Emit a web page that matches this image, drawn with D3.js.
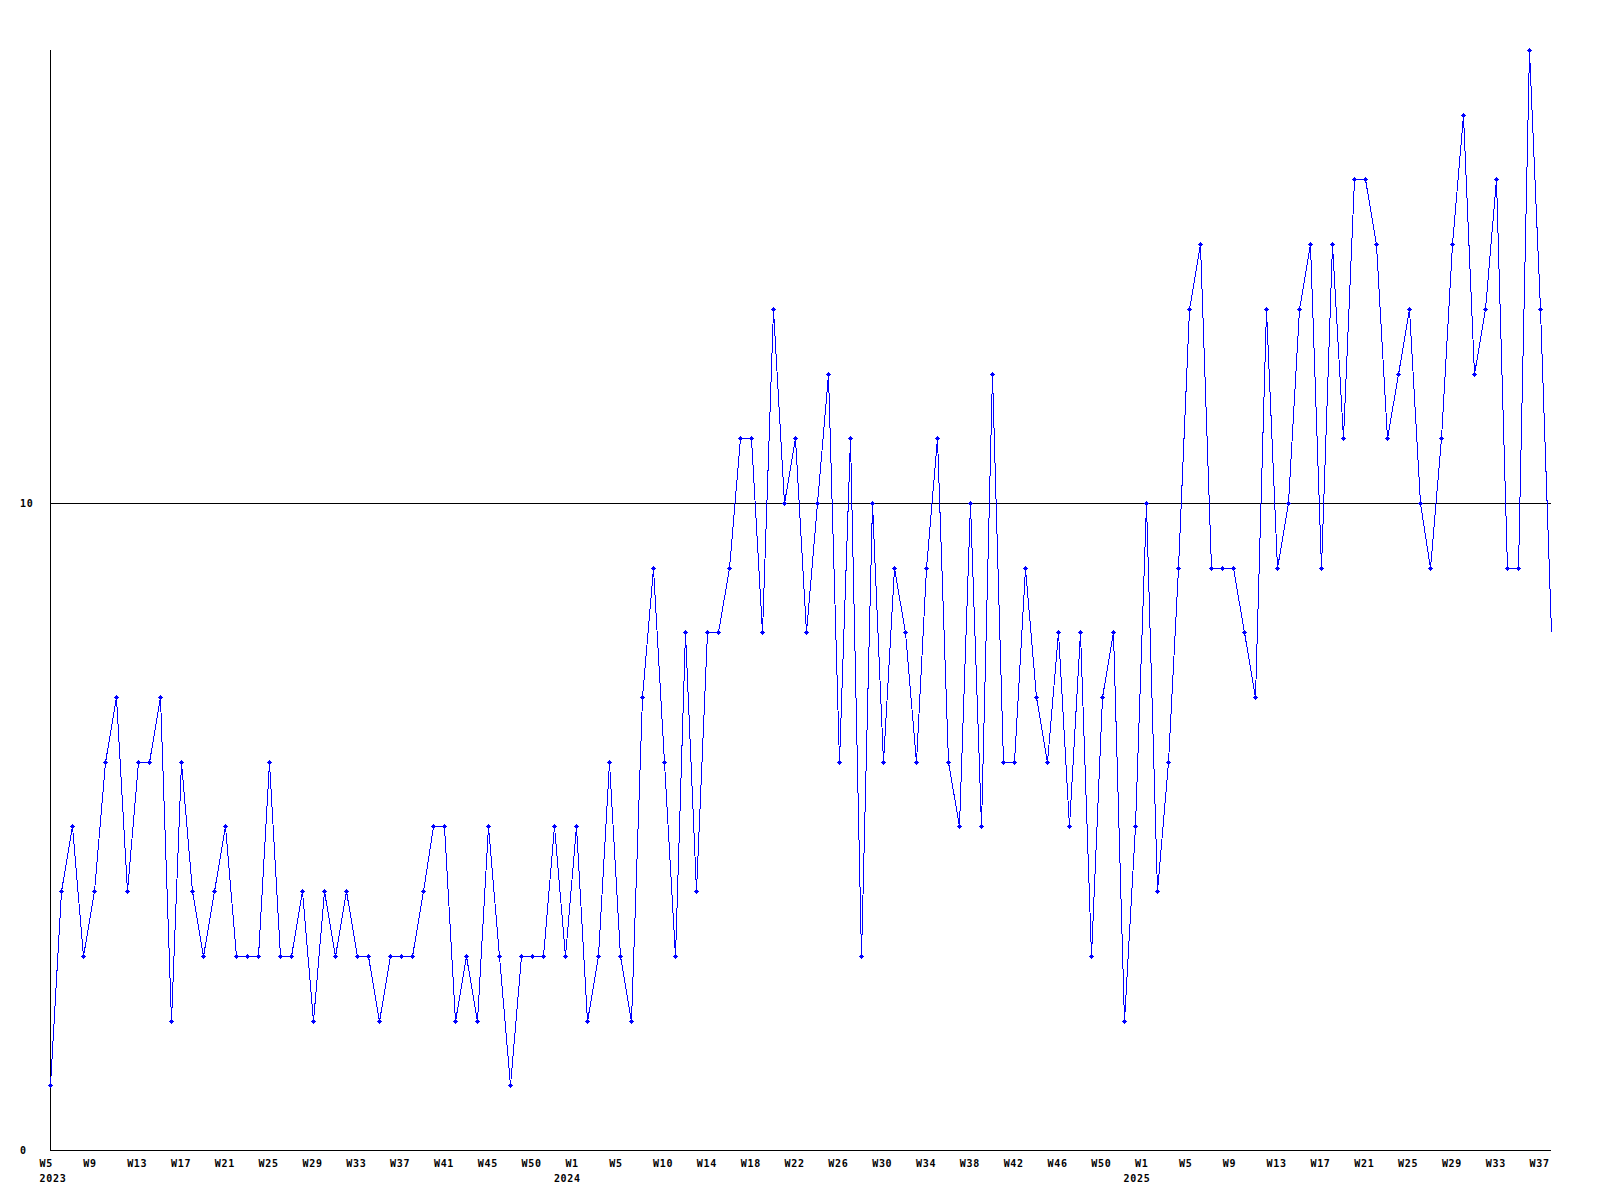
<!DOCTYPE html>
<html>
<head>
<meta charset="utf-8">
<script src="https://cdn.jsdelivr.net/npm/d3@7/dist/d3.min.js"></script>
<style>
  html, body { margin: 0; padding: 0; background: #ffffff; }
  svg { display: block; }
  text { font-family: "DejaVu Sans Mono", "Liberation Mono", monospace; font-weight: bold; font-size: 10px; letter-spacing: 0.7px; fill: #000; }
</style>
</head>
<body>
<svg id="chart" width="1600" height="1200"></svg>
<script>
// ---- data ----
const years = ["2023", "2024", "2025"];
const firstWeek = [5, 1, 1];
const values2023 = [1,4,5,3,4,6,7,4,6,6,7,2,6,4,3,4,5,3,3,3,6,3,3,4,
                    2,4,3,4,3,3,2,3,3,3,4,5,5,2,3,2,5,3,1,3,3,3,5,3];
const values2024 = [5,2,3,6,3,2,7,9,6,3,8,4,8,8,9,11,11,8,13,10,11,8,10,12,
                    6,11,3,10,6,9,8,6,9,11,6,5,10,5,12,6,6,9,7,6,8,5,8,3,
                    7,8,2,5];
const values2025 = [10,4,6,9,13,14,9,9,9,8,7,13,9,10,13,14,9,14,11,15,
                    15,14,11,12,13,10,9,11,14,16,12,13,15,9,9,17,13,8];
const ticks2023 = ["W5","W9","W13","W17","W21","W25","W29","W33","W37","W41","W45","W50"];
const ticks2024 = ["W1","W5","W10","W14","W18","W22","W26","W30","W34","W38","W42","W46","W50"];
const ticks2025 = ["W1","W5","W9","W13","W17","W21","W25","W29","W33","W37"];
const yTicks = [0, 10];
const yMax = 17;

// ---- build table ----
const seriesByYear = [values2023, values2024, values2025];
const ticksByYear = [ticks2023, ticks2024, ticks2025];
const points = [];
const tickRows = [];
const yearRows = [];
seriesByYear.forEach((vals, yi) => {
  vals.forEach((v, i) => {
    const cat = years[yi] + "-W" + (firstWeek[yi] + i);
    points.push({ cat, value: v });
    if (i === 0) yearRows.push({ cat, label: years[yi] });
  });
  ticksByYear[yi].forEach((lab, k) => {
    const cat = years[yi] + "-W" + (firstWeek[yi] + k * 4);
    tickRows.push({ cat, label: lab });
  });
});

// ---- layout ----
const mLeft = 50, mRight = 1551, mTop = 50, mBottom = 1150;
const svg = d3.select("#chart");
svg.append("rect").attr("width", 1600).attr("height", 1200).attr("fill", "#fff");

const x = d3.scalePoint().domain(points.map(d => d.cat)).range([mLeft, mRight]);
const y = d3.scaleLinear().domain([0, yMax]).range([mBottom, mTop]);
const px = c => Math.round(x(c)) + 0.5;
const py = v => Math.round(y(v)) + 0.5;

// axes
const g = svg.append("g").attr("shape-rendering", "crispEdges");
g.append("line").attr("x1", mLeft + 0.5).attr("x2", mLeft + 0.5)
  .attr("y1", y(yMax)).attr("y2", py(0) + 0.5).attr("stroke", "#000");
yTicks.forEach(t => {
  g.append("line").attr("x1", mLeft).attr("x2", mRight)
    .attr("y1", py(t)).attr("y2", py(t)).attr("stroke", "#000");
  svg.append("text").attr("x", 20).attr("y", py(t) + 3.5).text(String(t));
});

// x labels
svg.selectAll("text.wk").data(tickRows).enter().append("text")
  .attr("class", "wk")
  .attr("x", d => x(d.cat) - 10.5)
  .attr("y", 1167)
  .text(d => d.label);
svg.selectAll("text.yr").data(yearRows).enter().append("text")
  .attr("class", "yr")
  .attr("x", d => Math.max(x(d.cat) - 22, 39.5))
  .attr("y", 1182)
  .text(d => d.label);

// line
const line = d3.line().x(d => px(d.cat)).y(d => py(d.value));
svg.append("path").datum(points)
  .attr("d", line)
  .attr("fill", "none")
  .attr("stroke", "#0000ff")
  .attr("stroke-width", 1)
  .attr("shape-rendering", "crispEdges");

// markers (plus shapes), last point unmarked at the edge
const mk = svg.append("g").attr("fill", "#0000ff").attr("shape-rendering", "crispEdges");
const markerPts = points.slice(0, points.length - 1);
const markerPath = d => {
  const cx = Math.round(x(d.cat)), cy = Math.round(y(d.value));
  return `M${cx-2},${cy}h5v1h-5z M${cx},${cy-2}h1v5h-1z M${cx-1},${cy-1}h3v3h-3z`;
};
mk.selectAll("path").data(markerPts).enter().append("path").attr("d", markerPath);
</script>
</body>
</html>
